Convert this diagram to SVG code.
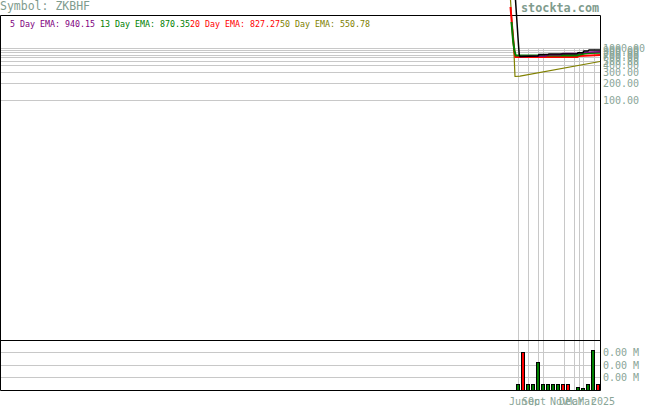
<svg xmlns="http://www.w3.org/2000/svg" width="655" height="406" viewBox="0 0 655 406">
<style>
.grid{stroke:#c8c8c8;stroke-width:1;fill:none}
.frame{stroke:#000;stroke-width:1;fill:none}
.ax{font-family:"DejaVu Sans Mono","Liberation Mono",monospace;font-size:10px;fill:#8aa597}
.leg{font-family:"DejaVu Sans Mono","Liberation Mono",monospace;font-size:8.3px}
.ttl{font-family:"DejaVu Sans Mono","Liberation Mono",monospace;fill:#7f9c8e}
.vg{fill:#008000;stroke:#000;stroke-width:1}
.vr{fill:#ff0000;stroke:#000;stroke-width:1}
.ln{fill:none;stroke-linejoin:round}
</style>
<rect width="655" height="406" fill="#fff"/>
<g id="titles">
<text class="ttl" x="0" y="10" font-size="11.5">Symbol: ZKBHF</text>
<text class="ttl" x="521" y="11.5" font-size="11.8" font-weight="bold">stockta.com</text>
</g>
<g id="grid">
<path class="grid" d="M0,48.5H600M0,50.5H600M0,52.5H600M0,55.5H600M0,57.5H600M0,61.5H600M0,65.5H600M0,72.5H600M0,83.5H600M0,100.5H600"/>
<path class="grid" d="M0,352.5H600M0,365.5H600M0,377.5H600"/>
<path class="grid" d="M518.5,48V390M528.5,48V390M538.5,48V390M543.5,48V390M564.5,48V390M574.5,48V390M579.5,48V390M583.5,48V390M594.5,48V390"/>
</g>
<g id="frame">
<path class="frame" d="M0.5,15.5H600.5V390.5H0.5Z M0.5,340.5H600.5"/>
</g>
<g id="legend">
<text class="leg" x="10" y="27" fill="#800080">5 Day EMA: 940.15</text>
<text class="leg" x="100" y="27" fill="#008000">13 Day EMA: 870.35</text>
<text class="leg" x="190" y="27" fill="#ff0000">20 Day EMA: 827.27</text>
<text class="leg" x="280" y="27" fill="#808000">50 Day EMA: 550.78</text>
</g>
<g id="price-labels">
<text class="ax" x="603" y="52">1000.00</text>
<text class="ax" x="603" y="54">900.00</text>
<text class="ax" x="603" y="56">800.00</text>
<text class="ax" x="603" y="59">700.00</text>
<text class="ax" x="603" y="61">600.00</text>
<text class="ax" x="603" y="65">500.00</text>
<text class="ax" x="603" y="69">400.00</text>
<text class="ax" x="603" y="76">300.00</text>
<text class="ax" x="603" y="87">200.00</text>
<text class="ax" x="603" y="104">100.00</text>
</g>
<g id="volume-labels">
<text class="ax" x="603" y="356">0.00 M</text>
<text class="ax" x="603" y="369">0.00 M</text>
<text class="ax" x="603" y="381">0.00 M</text>
</g>
<g id="date-labels">
<text class="ax" x="509" y="405">Jun</text>
<text class="ax" x="522" y="405">Sep</text>
<text class="ax" x="528" y="405">Oct</text>
<text class="ax" x="550" y="405">Nov</text>
<text class="ax" x="559" y="405">Dec</text>
<text class="ax" x="566" y="405">Mar</text>
<text class="ax" x="578" y="405">Mar</text>
<text class="ax" x="591" y="405">2025</text>
</g>
<g id="volume-bars">
<rect class="vg" x="516.5" y="384.5" width="3" height="6"/>
<rect class="vr" x="521.5" y="352.5" width="3" height="38"/>
<rect class="vg" x="526.5" y="384.5" width="3" height="6"/>
<rect class="vg" x="531.5" y="384.5" width="3" height="6"/>
<rect class="vg" x="536.5" y="362.5" width="3" height="28"/>
<rect class="vg" x="541.5" y="384.5" width="3" height="6"/>
<rect class="vg" x="546.5" y="384.5" width="3" height="6"/>
<rect class="vg" x="551.5" y="384.5" width="3" height="6"/>
<rect class="vg" x="556.5" y="384.5" width="3" height="6"/>
<rect class="vr" x="561.5" y="384.5" width="3" height="6"/>
<rect class="vr" x="566.5" y="384.5" width="3" height="6"/>
<rect class="vg" x="576.5" y="387.5" width="3" height="3"/>
<rect class="vg" x="581.5" y="388.5" width="3" height="2"/>
<rect class="vg" x="586.5" y="384.5" width="3" height="6"/>
<rect class="vg" x="591.5" y="350.5" width="3" height="40"/>
<rect class="vr" x="596.5" y="384.5" width="3" height="6"/>
</g>
<g id="series">
<path class="ln" stroke="#808000" stroke-width="1.2" d="M510.5,0 L511.5,15 L512.5,30 L513.5,45 L514.3,60 L515,76.5 L520,76.2 L600,61.5"/>
<path class="ln" stroke="#ff0000" stroke-width="2" d="M510.5,7 L512,25 L513.5,42 L514.5,52 L515.3,57 L577,57 L579,56 L590,55.5 L600,55"/>
<path class="ln" stroke="#008000" stroke-width="2" d="M511.5,22 L513,40 L514.5,51 L515.8,55.5 L577,55.5 L580,54.5 L585,53.5 L590,53 L600,52.7"/>
<path class="ln" stroke="#800080" stroke-width="1.5" d="M520,56.5 L545,56 L548,54.8 L560,54.8 L563,53.5 L578,53.2 L585,52.2 L600,51.7"/>
<path class="ln" stroke="#000" stroke-width="1.5" d="M515.5,0 L516.5,15 L517.5,30 L518.5,45 L519.3,55 L520,56.5 L538,56 L539,54.5 L548,54.5 L549,54 L577,54 L578,52.7 L583,52.7 L584,51 L588,51 L589,50 L600,50"/>
</g>
</svg>
